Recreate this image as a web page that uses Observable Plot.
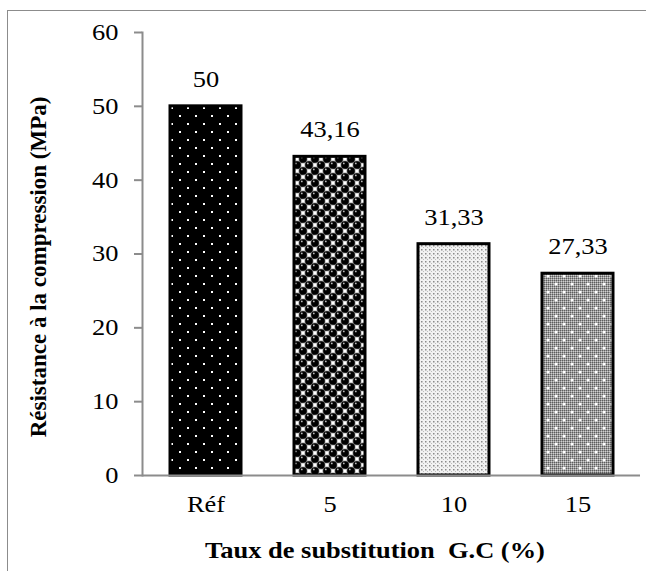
<!DOCTYPE html>
<html>
<head>
<meta charset="utf-8">
<script src="https://cdn.jsdelivr.net/npm/d3@7"></script>
<script src="https://cdn.jsdelivr.net/npm/@observablehq/plot@0.6"></script>
<style>
  html, body { margin: 0; padding: 0; background: #fff; }
  #wrap { position: relative; width: 646px; height: 571px; overflow: hidden; }
  #frame { position: absolute; left: 7px; top: 10px; width: 700px; height: 600px;
           border-left: 1.5px solid #8c8c8c; border-top: 1.5px solid #8c8c8c; pointer-events: none; }
</style>
</head>
<body>
<div id="wrap"><div id="frame"></div></div>
<script>
const categories = ["Réf", "5", "10", "15"];
const values = [50, 43.16, 31.33, 27.33];
const valueLabels = ["50", "43,16", "31,33", "27,33"];
const yTicks = [0, 10, 20, 30, 40, 50, 60];
const xTitle = "Taux de substitution  G.C (%)";
const yTitle = "Résistance à la compression (MPa)";

const data = categories.map((c, i) => ({cat: c, value: values[i], label: valueLabels[i]}));
const patternFor = {"Réf": "url(#pRef)", "5": "url(#p5)", "10": "url(#p10)", "15": "url(#p15a)"};
const font = "Liberation Serif, serif";

const chart = Plot.plot({
  width: 646,
  height: 571,
  marginLeft: 142,
  marginRight: 6,
  marginTop: 32,
  marginBottom: 96,
  style: {fontFamily: font, fontSize: "23px"},
  x: {domain: categories, paddingInner: 0.43, paddingOuter: 0.215, label: null},
  y: {domain: [0, 60], label: null},
  color: {type: "identity"},
  marks: [
    Plot.barY(data, {x: "cat", y: "value", fill: d => patternFor[d.cat]}),
    Plot.barY(data.filter(d => d.cat === "15"), {x: "cat", y: "value", fill: "url(#p15b)"}),
    Plot.barY(data, {x: "cat", y: "value", fill: "none", stroke: "#000", strokeWidth: 3}),
    Plot.ruleY([0], {stroke: "#8c8c8c", strokeWidth: 2}),
    Plot.frame({anchor: "left", stroke: "#8c8c8c", strokeWidth: 2}),
    Plot.axisY({ticks: yTicks, tickSize: 8, tickPadding: 16, stroke: "#8c8c8c", strokeWidth: 2,
                fontSize: 23, fontFamily: font, fill: "#000", label: null}),
    Plot.axisX({tickSize: 0, tickPadding: 20, fontSize: 23, fontFamily: font, fill: "#000", label: null}),
    Plot.text(data, {x: "cat", y: "value", text: "label", dy: -27, fontSize: 23, fontFamily: font, fill: "#000"})
  ]
});

// the reference is slightly stretched horizontally: widen horizontal texts
chart.querySelectorAll('g[aria-label="y-axis tick label"] text, g[aria-label="x-axis tick label"] text, g[aria-label="text"] text')
  .forEach(t => { const tr = t.getAttribute("transform"); if (tr) t.setAttribute("transform", tr + " scale(1.15,1)"); });

const svg = d3.select(chart);
const defs = svg.insert("defs", ":first-child");

// Réf: black with white staggered dots
const pr = defs.append("pattern").attr("id", "pRef").attr("patternUnits", "userSpaceOnUse").attr("width", 16).attr("height", 16);
pr.append("rect").attr("width", 16).attr("height", 16).attr("fill", "#000");
pr.append("rect").attr("x", 3).attr("y", 3).attr("width", 2).attr("height", 2).attr("fill", "#fff");
pr.append("rect").attr("x", 11).attr("y", 11).attr("width", 2).attr("height", 2).attr("fill", "#fff");

// 5: spheres
const p5 = defs.append("pattern").attr("id", "p5").attr("patternUnits", "userSpaceOnUse").attr("width", 12).attr("height", 12);
p5.append("rect").attr("width", 12).attr("height", 12).attr("fill", "#fff");
[[3, 3], [9, 9], [-3, 9], [15, 3], [9, -3], [3, 15]].forEach(([cx, cy]) => {
  p5.append("circle").attr("cx", cx).attr("cy", cy).attr("r", 4.1).attr("fill", "#000").attr("stroke", "#777").attr("stroke-width", 0.6);
  p5.append("circle").attr("cx", cx - 1.2).attr("cy", cy - 1.6).attr("r", 0.9).attr("fill", "#bbb");
});

// 10: fine light stipple
const p10 = defs.append("pattern").attr("id", "p10").attr("patternUnits", "userSpaceOnUse").attr("width", 4).attr("height", 4);
p10.append("rect").attr("width", 4).attr("height", 4).attr("fill", "#f2f2f2");
p10.append("rect").attr("x", 1).attr("y", 1).attr("width", 1.5).attr("height", 1.5).attr("fill", "#8a8a8a");
p10.append("rect").attr("x", 3).attr("y", 3).attr("width", 1).attr("height", 1).attr("fill", "#bdbdbd");

// 15: grey checker + white dots
const p15a = defs.append("pattern").attr("id", "p15a").attr("patternUnits", "userSpaceOnUse").attr("width", 2).attr("height", 2);
p15a.append("rect").attr("width", 2).attr("height", 2).attr("fill", "#9a9a9a");
p15a.append("rect").attr("width", 1).attr("height", 1).attr("fill", "#5e5e5e");
p15a.append("rect").attr("x", 1).attr("y", 1).attr("width", 1).attr("height", 1).attr("fill", "#d0d0d0");
const p15b = defs.append("pattern").attr("id", "p15b").attr("patternUnits", "userSpaceOnUse").attr("width", 16).attr("height", 16);
p15b.append("circle").attr("cx", 4).attr("cy", 4).attr("r", 1.6).attr("fill", "#fff");
p15b.append("circle").attr("cx", 12).attr("cy", 12).attr("r", 1.6).attr("fill", "#fff");

// Titles
svg.append("text").attr("transform", "translate(375,553) scale(1.15,1)").attr("text-anchor", "middle").attr("dominant-baseline", "middle")
  .attr("font-family", font).attr("font-weight", "bold").attr("font-size", 23).attr("fill", "#000").text(xTitle);
svg.append("text").attr("transform", "translate(41,267) rotate(-90)").attr("text-anchor", "middle").attr("dominant-baseline", "middle")
  .attr("font-family", font).attr("font-weight", "bold").attr("font-size", 23).attr("fill", "#000").text(yTitle);

document.getElementById("wrap").prepend(chart);
chart.style.position = "absolute";
chart.style.left = "0";
chart.style.top = "0";
</script>
</body>
</html>
